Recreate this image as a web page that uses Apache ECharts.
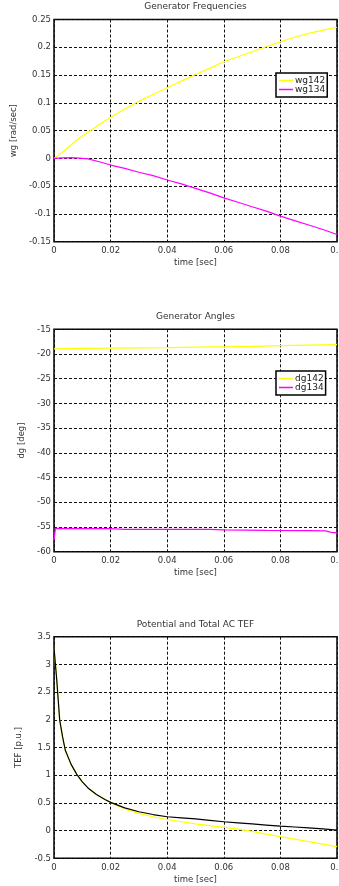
<!DOCTYPE html>
<html><head><meta charset="utf-8">
<script src="https://cdn.jsdelivr.net/npm/echarts@6/dist/echarts.min.js"></script>
<style>html,body{margin:0;padding:0;background:#fff;overflow:hidden}#c{width:339px;height:886px}</style>
</head><body><div id="c"></div>
<script>
// ---- data ----
const xTicks = [0, 0.02, 0.04, 0.06, 0.08, 0.1];
const wg142_t = [0,0.004,0.008,0.012,0.016,0.02,0.025,0.03,0.035,0.04,0.045,0.05,0.055,0.06,0.065,0.07,0.075,0.08,0.085,0.09,0.095,0.1];
const wg142_v = [0,0.015,0.033,0.047,0.061,0.074,0.089,0.103,0.115,0.127,0.139,0.151,0.162,0.174,0.183,0.192,0.201,0.210,0.218,0.225,0.231,0.236];
const wg134_t = [0,0.003,0.006,0.009,0.012,0.016,0.02,0.025,0.03,0.035,0.04,0.045,0.05,0.055,0.06,0.065,0.07,0.075,0.08,0.085,0.09,0.095,0.1];
const wg134_v = [0,0.001,0.0012,0.0005,-0.001,-0.006,-0.012,-0.018,-0.025,-0.031,-0.039,-0.046,-0.054,-0.062,-0.071,-0.079,-0.087,-0.095,-0.104,-0.112,-0.12,-0.128,-0.137];
const dg142_t = [0,0.0092,0.02,0.03,0.04,0.05,0.0634,0.07,0.08,0.09,0.1];
const dg142_v = [-18.95,-18.85,-18.8,-18.75,-18.72,-18.62,-18.52,-18.45,-18.31,-18.2,-18.11];
const dg134_t = [0,0.0005,0.02,0.025,0.04,0.055,0.06,0.075,0.09,0.096,0.098,0.1];
const dg134_v = [-57.7,-55.3,-55.35,-55.5,-55.5,-55.5,-55.6,-55.7,-55.75,-55.8,-56.1,-56.2];
const tef_t = [0,0.001,0.002,0.003,0.004,0.006,0.008,0.01,0.012,0.015,0.018,0.02,0.025,0.03,0.035,0.04,0.045,0.05,0.055,0.06,0.065,0.07,0.075,0.08,0.085,0.09,0.095,0.1];
const total_v = [3.3,2.7,2.0,1.7,1.45,1.2,1.02,0.88,0.77,0.65,0.56,0.51,0.41,0.34,0.29,0.25,0.23,0.21,0.185,0.16,0.14,0.12,0.10,0.08,0.065,0.05,0.03,0.01];
const pot_v = [3.3,2.7,2.0,1.7,1.45,1.2,1.02,0.88,0.77,0.65,0.56,0.51,0.39,0.31,0.25,0.20,0.16,0.12,0.09,0.06,0.025,-0.015,-0.065,-0.11,-0.155,-0.20,-0.245,-0.29];
const titles = ['Generator Frequencies', 'Generator Angles', 'Potential and Total AC TEF'];
const yNames = ['wg [rad/sec]', 'dg [deg]', 'TEF [p.u.]'];
const yRanges = [[-0.15, 0.25, 0.05], [-60, -15, 5], [-0.5, 3.5, 0.5]];

// ---- layout ----
const FONT = 'DejaVu Sans';
const gridTops = [19.5, 329.3, 636.7];
const gridH = [222.2, 222.4, 221.6];
const titleTops = [2, 312, 620];
const yNameGaps = [28.5, 20, 24.5];
const zip = (t, v) => t.map((x, i) => [x, v[i]]);
const fmt = v => String(Math.round(v * 10000) / 10000);
const txt = {color: '#333', fontFamily: FONT, fontSize: 8.5};

const option = {
  animation: false,
  backgroundColor: '#fff',
  title: titles.map((s, i) => ({text: s, left: 195.5, top: titleTops[i], textAlign: 'center', padding: 0,
    textStyle: {color: '#333', fontFamily: FONT, fontSize: 9, fontWeight: 'normal'}})),
  grid: gridTops.map((t, i) => ({left: 54, width: 283, top: t, height: gridH[i], show: true,
    borderColor: '#000', borderWidth: 1.5, backgroundColor: 'transparent', containLabel: false,
    outerBoundsMode: 'none'})),
  xAxis: gridTops.map((t, i) => ({type: 'value', gridIndex: i, min: 0, max: 0.1, interval: 0.02,
    name: 'time [sec]', nameLocation: 'middle', nameGap: 17, nameTextStyle: txt,
    axisLine: {show: false}, axisTick: {show: false},
    axisLabel: Object.assign({margin: 5, formatter: fmt, showMaxLabel: true, hideOverlap: false}, txt),
    splitLine: {show: true, lineStyle: {color: '#111', width: 1, type: [3, 2]}}})),
  yAxis: gridTops.map((t, i) => ({type: 'value', gridIndex: i, min: yRanges[i][0], max: yRanges[i][1], interval: yRanges[i][2],
    name: yNames[i], nameLocation: 'middle', nameGap: yNameGaps[i], nameTextStyle: txt,
    axisLine: {show: false}, axisTick: {show: false},
    axisLabel: Object.assign({margin: 3, formatter: fmt}, txt),
    splitLine: {show: true, lineStyle: {color: '#111', width: 1, type: [3, 2]}}})),
  legend: [
    {data: ['wg142', 'wg134'], left: 276, top: 73, orient: 'vertical', icon: 'rect', itemWidth: 14, itemHeight: 1.5,
     itemGap: 0, padding: [3, 2, 3, 3], borderColor: '#000', borderWidth: 1.5, backgroundColor: '#fff',
     textStyle: {color: '#222', fontFamily: FONT, fontSize: 9, lineHeight: 8, padding: [0, 0, 0, -3]}},
    {data: ['dg142', 'dg134'], left: 276, top: 371, orient: 'vertical', icon: 'rect', itemWidth: 14, itemHeight: 1.5,
     itemGap: 0, padding: [3, 2, 3, 3], borderColor: '#000', borderWidth: 1.5, backgroundColor: '#fff',
     textStyle: {color: '#222', fontFamily: FONT, fontSize: 9, lineHeight: 8, padding: [0, 0, 0, -3]}}
  ],
  series: [
    {name: 'wg142', type: 'line', xAxisIndex: 0, yAxisIndex: 0, data: zip(wg142_t, wg142_v), color: '#ffff00'},
    {name: 'wg134', type: 'line', xAxisIndex: 0, yAxisIndex: 0, data: zip(wg134_t, wg134_v), color: '#ff00ff'},
    {name: 'dg142', type: 'line', xAxisIndex: 1, yAxisIndex: 1, data: zip(dg142_t, dg142_v), color: '#ffff00'},
    {name: 'dg134', type: 'line', xAxisIndex: 1, yAxisIndex: 1, data: zip(dg134_t, dg134_v), color: '#ff00ff'},
    {name: 'Potential TEF', type: 'line', xAxisIndex: 2, yAxisIndex: 2, data: zip(tef_t, pot_v), color: '#ffff00'},
    {name: 'Total TEF', type: 'line', xAxisIndex: 2, yAxisIndex: 2, data: zip(tef_t, total_v), color: '#000000'}
  ].map(s => Object.assign(s, {symbol: 'none', smooth: false, lineStyle: {width: 1.2}, clip: true}))
};
const chart = echarts.init(document.getElementById('c'), null, {renderer: 'canvas'});
chart.setOption(option);
</script></body></html>
